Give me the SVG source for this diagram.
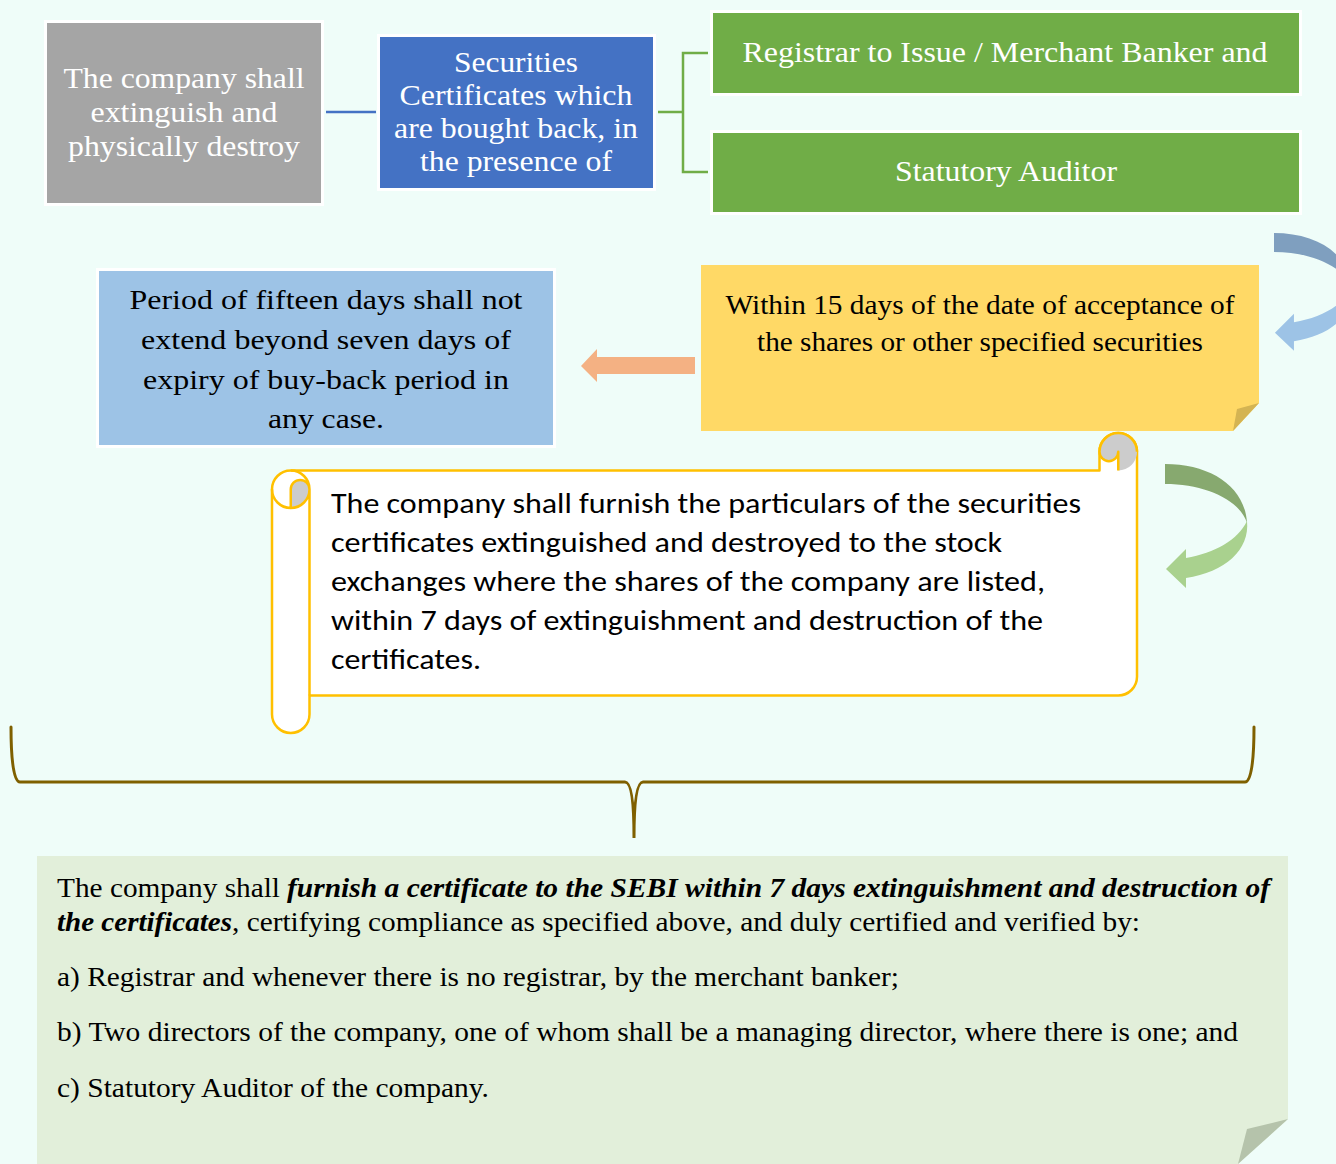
<svg xmlns="http://www.w3.org/2000/svg" width="1336" height="1164" viewBox="0 0 1336 1164">
  <style>
    .serif { font-family: 'Liberation Serif', Times, serif; }
    .sans { font-family: Carlito, 'Liberation Sans', Arial, sans-serif; }
    .box { stroke: #ffffff; stroke-width: 3; }
    .wt { fill: #ffffff; font-size: 30px; text-anchor: middle; }
    .bk { fill: #000000; font-size: 28px; }
    .scroll { fill: #ffffff; stroke: #ffc000; stroke-width: 2.5; stroke-linejoin: round; }
    .curl { fill: #cccccc; }
    .conn { fill: none; stroke-width: 2.5; }
    .brace { fill: none; stroke: #7f6000; stroke-width: 3; stroke-linecap: round; }
  </style>

  <rect width="1336" height="1164" fill="#effdf9"/>

  <!-- connectors -->
  <g id="connectors">
    <line class="conn" x1="326" y1="112" x2="376" y2="112" stroke="#4472c4"/>
    <path class="conn" stroke="#70ad47" d="M 658,112 L 683,112 M 708,53 L 683,53 L 683,172 L 708,172"/>
    <path id="salmon-arrow" fill="#f4b183" d="M 695,357 L 597,357 L 597,349 L 581,366 L 597,382 L 597,374 L 695,374 Z"/>
    <!-- two-tone twisted curved arrows -->
    <g id="blue-curved" transform="translate(1274,233) scale(0.95) translate(-1165,-464)">
      <path fill="#7f9fbf" d="M 1165,464 C 1210,464 1245,486 1247,523 C 1240,500 1205,484 1165,484 Z"/>
      <path fill="#9dc3e6" d="M 1247,521 C 1250,550 1225,572 1186,578 L 1186,588 L 1166,569 L 1186,549 L 1186,558 C 1215,553 1238,540 1247,521 Z"/>
    </g>
    <g id="green-curved">
      <path fill="#87a96f" d="M 1165,464 C 1210,464 1245,486 1247,523 C 1240,500 1205,484 1165,484 Z"/>
      <path fill="#a9d18e" d="M 1247,521 C 1250,550 1225,572 1186,578 L 1186,588 L 1166,569 L 1186,549 L 1186,558 C 1215,553 1238,540 1247,521 Z"/>
    </g>
    <path id="brace" class="brace" d="M 11,727 C 11,762 14,782 20,782 L 625,782 C 631,782 634,800 634,838 C 634,800 637,782 643,782 L 1245,782 C 1251,782 1254,762 1254,727"/>
  </g>

  <!-- top row -->
  <g id="node-destroy">
    <rect class="box" x="45.5" y="21.5" width="277" height="183" fill="#a5a5a5"/>
    <text class="serif wt" x="184" y="88" textLength="241" lengthAdjust="spacingAndGlyphs">The company shall</text>
    <text class="serif wt" x="184" y="122" textLength="187" lengthAdjust="spacingAndGlyphs">extinguish and</text>
    <text class="serif wt" x="184" y="156" textLength="232" lengthAdjust="spacingAndGlyphs">physically destroy</text>
  </g>

  <g id="node-certificates">
    <rect class="box" x="378.5" y="35.5" width="276" height="154" fill="#4472c4"/>
    <text class="serif wt" x="516" y="72" textLength="124" lengthAdjust="spacingAndGlyphs">Securities</text>
    <text class="serif wt" x="516" y="105" textLength="233" lengthAdjust="spacingAndGlyphs">Certificates which</text>
    <text class="serif wt" x="516" y="138" textLength="244" lengthAdjust="spacingAndGlyphs">are bought back, in</text>
    <text class="serif wt" x="516" y="171" textLength="192" lengthAdjust="spacingAndGlyphs">the presence of</text>
  </g>

  <g id="node-registrar">
    <rect class="box" x="711.5" y="11.5" width="589" height="83" fill="#70ad47"/>
    <text class="serif wt" x="1005" y="62" textLength="525" lengthAdjust="spacingAndGlyphs">Registrar to Issue / Merchant Banker and</text>
  </g>

  <g id="node-auditor">
    <rect class="box" x="711.5" y="131.5" width="589" height="82" fill="#70ad47"/>
    <text class="serif wt" x="1006" y="181" textLength="222" lengthAdjust="spacingAndGlyphs">Statutory Auditor</text>
  </g>

  <!-- middle row -->
  <g id="node-within-15-days">
    <path fill="#ffd966" d="M 701,265 L 1259,265 L 1259,403 L 1233,431 L 701,431 Z"/>
    <path fill="#d4b452" d="M 1259,403 L 1237,409 L 1233,431 Z"/>
    <text class="serif bk" x="980" y="314" text-anchor="middle" textLength="509" lengthAdjust="spacingAndGlyphs">Within 15 days of the date of acceptance of</text>
    <text class="serif bk" x="980" y="351" text-anchor="middle" textLength="446" lengthAdjust="spacingAndGlyphs">the shares or other specified securities</text>
  </g>

  <g id="node-fifteen-days">
    <rect class="box" x="97.5" y="269.5" width="457" height="177" fill="#9dc3e6"/>
    <text class="serif bk" x="326" y="309" text-anchor="middle" textLength="393" lengthAdjust="spacingAndGlyphs">Period of fifteen days shall not</text>
    <text class="serif bk" x="326" y="349" text-anchor="middle" textLength="370" lengthAdjust="spacingAndGlyphs">extend beyond seven days of</text>
    <text class="serif bk" x="326" y="389" text-anchor="middle" textLength="366" lengthAdjust="spacingAndGlyphs">expiry of buy-back period in</text>
    <text class="serif bk" x="326" y="428" text-anchor="middle" textLength="116" lengthAdjust="spacingAndGlyphs">any case.</text>
  </g>

  <!-- scroll with particulars -->
  <g id="node-scroll">
    <path class="scroll" d="M 272,489.25 A 18.75,18.75 0 0 1 290.75,470.5 L 1099.5,470.5 L 1099.5,451.75 A 18.75,18.75 0 0 1 1137,451.75 L 1137,676.75 A 18.75,18.75 0 0 1 1118.25,695.5 L 309.5,695.5 L 309.5,714.25 A 18.75,18.75 0 0 1 272,714.25 Z"/>
    <path class="curl" d="M 1118.25,470.5 L 1118.25,451.75 A 9.375,9.375 0 0 1 1099.5,451.75 A 18.75,18.75 0 0 1 1137,451.75 A 18.75,18.75 0 0 1 1118.25,470.5 Z"/>
    <path class="curl" d="M 290.75,508 L 290.75,489.25 A 9.375,9.375 0 0 1 309.5,489.25 A 18.75,18.75 0 0 1 290.75,508 Z"/>
    <path fill="none" stroke="#ffc000" stroke-width="2.5" stroke-linejoin="round" d="M 1118.25,470.5 L 1118.25,451.75 A 9.375,9.375 0 0 1 1099.5,451.75 M 1099.5,451.75 A 18.75,18.75 0 0 1 1137,451.75 M 290.75,470.5 A 18.75,18.75 0 0 1 290.75,508 A 18.75,18.75 0 0 1 272,489.25 M 309.5,489.25 L 309.5,695.5 M 290.75,508 L 290.75,489.25 A 9.375,9.375 0 0 1 309.5,489.25"/>
    <text class="sans bk" x="331" y="513" textLength="750" lengthAdjust="spacingAndGlyphs">The company shall furnish the particulars of the securities</text>
    <text class="sans bk" x="331" y="552" textLength="671" lengthAdjust="spacingAndGlyphs">certificates extinguished and destroyed to the stock</text>
    <text class="sans bk" x="331" y="591" textLength="714" lengthAdjust="spacingAndGlyphs">exchanges where the shares of the company are listed,</text>
    <text class="sans bk" x="331" y="630" textLength="712" lengthAdjust="spacingAndGlyphs">within 7 days of extinguishment and destruction of the</text>
    <text class="sans bk" x="331" y="669" textLength="150" lengthAdjust="spacingAndGlyphs">certificates.</text>
  </g>

  <!-- bottom certificate note -->
  <g id="node-sebi-certificate">
    <path fill="#e2efda" d="M 37,856 L 1288,856 L 1288,1119 L 1238,1164 L 37,1164 Z"/>
    <path fill="#b5c3ab" d="M 1288,1119 L 1247,1129 L 1238,1164 Z"/>
    <text class="serif bk" x="57" y="897" textLength="223" lengthAdjust="spacingAndGlyphs">The company shall</text>
    <text class="serif bk" x="287" y="897" font-weight="bold" font-style="italic" textLength="983" lengthAdjust="spacingAndGlyphs">furnish a certificate to the SEBI within 7 days extinguishment and destruction of</text>
    <text class="serif bk" x="57" y="931" font-weight="bold" font-style="italic" textLength="175" lengthAdjust="spacingAndGlyphs">the certificates</text>
    <text class="serif bk" x="232" y="931" textLength="908" lengthAdjust="spacingAndGlyphs">, certifying compliance as specified above, and duly certified and verified by:</text>
    <text class="serif bk" x="57" y="986" textLength="842" lengthAdjust="spacingAndGlyphs">a) Registrar and whenever there is no registrar, by the merchant banker;</text>
    <text class="serif bk" x="57" y="1041" textLength="1181" lengthAdjust="spacingAndGlyphs">b) Two directors of the company, one of whom shall be a managing director, where there is one; and</text>
    <text class="serif bk" x="57" y="1097" textLength="432" lengthAdjust="spacingAndGlyphs">c) Statutory Auditor of the company.</text>
  </g>
</svg>
